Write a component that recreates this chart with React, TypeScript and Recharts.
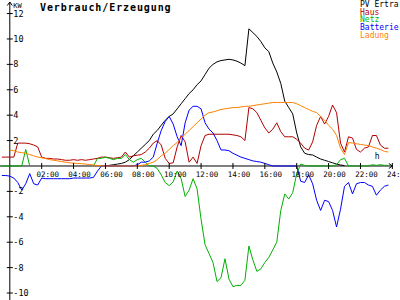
import { Legend, Line, LineChart, ReferenceDot, ReferenceLine, XAxis, YAxis } from "recharts";

// time of day in hours, 15 min steps (starts a bit before midnight)
const hours = [
  -0.5, -0.25,
  0, 0.25, 0.5, 0.75, 1, 1.25, 1.5, 1.75, 2, 2.25, 2.5, 2.75, 3, 3.25, 3.5, 3.75,
  4, 4.25, 4.5, 4.75, 5, 5.25, 5.5, 5.75, 6, 6.25, 6.5, 6.75, 7, 7.25, 7.5, 7.75,
  8, 8.25, 8.5, 8.75, 9, 9.25, 9.5, 9.75, 10, 10.25, 10.5, 10.75, 11, 11.25, 11.5, 11.75,
  12, 12.25, 12.5, 12.75, 13, 13.25, 13.5, 13.75, 14, 14.25, 14.5, 14.75, 15, 15.25, 15.5, 15.75,
  16, 16.25, 16.5, 16.75, 17, 17.25, 17.5, 17.75, 18, 18.25, 18.5, 18.75, 19, 19.25, 19.5, 19.75,
  20, 20.25, 20.5, 20.75, 21, 21.25, 21.5, 21.75, 22, 22.25, 22.5, 22.75, 23, 23.25, 23.5, 23.75,
];

// kW, one row per hour
const pvErtrag = [
  null, null,
  null, null, null, null,
  null, null, null, null,
  null, null, null, null,
  null, null, null, null,
  null, null, null, null,
  null, null, null, null,
  0, 0.05, 0.1, 0.15,
  0.2, 0.3, 0.5, 0.8,
  1.1, 1.4, 1.7, 2.0,
  2.5, 2.8, 3.2, 3.6,
  3.9, 4.1, 4.5, 4.9,
  5.3, 5.7, 6.0, 6.4,
  6.7, 7.2, 7.7, 8.0,
  8.2, 8.3, 8.35, 8.4,
  8.35, 8.25, 8.1, 7.9,
  10.8, 10.5, 10.2, 9.8,
  9.3, 9.0, 8.1, 7.4,
  6.5, 5.1, 4.6, 4.1,
  2.6, 1.5, 1.0, 0.9,
  0.87, 0.7, 0.55, 0.45,
  0.35, 0.25, 0.15, 0.08,
  0.03, null, null, null,
  null, null, null, null,
  null, null, null, null,
];

const haus = [
  0.7, 0.7,
  0.7, 0.7, 1.8, 1.8,
  1.8, 1.75, 1.65, 1.5,
  0.7, 0.6, 0.6, 0.55,
  0.55, 0.5, 0.45, 0.45,
  0.5, 0.45, 0.5, 0.45,
  0.5, 0.55, 0.6, 0.7,
  0.7, 0.65, 0.6, 0.65,
  0.7, 1.1, 0.7, 0.8,
  0.85, 0.9, 1.1, 1.4,
  1.8, 2.0, 1.65, 0.6,
  0.2, 0.25, 1.5, 2.4,
  1.9, 0.3, 0.7, 0.2,
  1.6, 2.4, 2.5, 2.5,
  2.5, 2.5, 2.5, 2.5,
  2.45, 2.4, 2.3, 2.0,
  4.6, 4.5, 4.2, 3.6,
  3.0, 2.6, 2.9, 3.4,
  2.7, 2.3, 2.3, 2.3,
  2.1, 1.8, 1.4, 1.26,
  1.9, 3.2, 3.9, 3.3,
  3.9, 4.8, 4.2, 1.8,
  1.1, 2.3, 2.2, 1.3,
  1.1, 1.4, 1.5, 2.4,
  2.4, 1.65, 1.4, 1.4,
];

const netz = [
  0, 0,
  0, 0, 0, 0,
  1.3, 0, null, null,
  null, null, null, null,
  null, null, null, null,
  null, null, null, null,
  null, 0, 0.6, 0.6,
  0.7, 0.6, 0.5, 0.6,
  0.6, 0.9, 0.5, 0.3,
  0.5, 0.6, 0.3, 0,
  0, -0.2, -0.7, -1.3,
  -1.55, -1.25, -0.4, -1.0,
  -2.4, -1.9, -1.0, -1.8,
  -4.2, -6.2, -6.9, -7.6,
  -9.1, -8.8, -7.3, -8.9,
  -9.5, -9.4, -9.4, -9.0,
  -6.3, -7.4, -8.3, -8.1,
  -7.6, -7.2, -6.6, -6.0,
  -3.5, -2.2, -2.6, -2.1,
  -0.6, 0.15, 0.05, 0,
  0, 0, 0, 0,
  0, 0, 0.1, 0.5,
  0.6, 0, 0, 0,
  0, 0, 0, 0.1,
  0.05, 0.1, 0.05, 0.05,
];

const batterie = [
  -0.75, -0.75,
  -0.8, -0.95, -1.3, -1.9,
  -1.4, -0.6, -1.4, -1.5,
  -0.95, -1.0, -1.0, -1.0,
  -1.0, -1.0, -1.0, -1.0,
  -0.95, -0.95, -0.95, -0.95,
  -0.95, -0.9, -0.4, 0,
  0, 0, 0, 0,
  0, 0, 0, 0,
  0.1, 0.3, 0.3, 0.4,
  0.7, 1.8, 2.8, 3.5,
  3.9, 3.3, 2.3, 1.6,
  3.4, 4.4, 4.7, 4.7,
  4.5, 3.4, 2.9, 2.6,
  2.0, 1.26, 1.26, 1.2,
  1.0, 0.85, 0.7, 0.6,
  0.5, 0.4, 0.35, 0.3,
  0.2, 0.1, 0, 0,
  0, 0, 0, 0,
  0, -1.2, -1.3, -0.7,
  -1.4, -2.7, -3.5, -2.7,
  -2.8, -3.5, -4.8, -3.4,
  -1.6, -1.3, -2.2, -1.4,
  -1.3, -1.3, -1.5, -1.6,
  -2.3, -1.9, -1.6, -1.5,
];

const ladung = [
  null, null,
  1.26, 1.2, 1.1, 1.05,
  1.0, 0.9, 0.8, 0.7,
  0.65, 0.58, 0.5, 0.45,
  0.4, 0.35, 0.3, 0.25,
  0.22, 0.2, 0.18, 0.15,
  0.12, 0.08, 0.04, 0,
  0, 0, 0, 0,
  0, 0, 0, 0,
  0, 0.05, 0.1, 0.2,
  0.3, 0.5, 0.8, 1.0,
  1.3, 1.6, 1.85, 2.2,
  2.5, 2.8, 3.1, 3.4,
  3.7, 4.0, 4.2, 4.25,
  4.35, 4.45, 4.5, 4.55,
  4.6, 4.6, 4.65, 4.7,
  4.7, 4.75, 4.8, 4.85,
  4.9, 4.95, 5.0, 5.0,
  5.0, 5.0, 5.0, 5.0,
  4.9, 4.75, 4.6, 4.45,
  4.3, 4.2, 3.9, 3.6,
  3.2, 2.9, 2.4, 1.4,
  0.9, 1.85, 1.8, 1.75,
  1.7, 1.65, 1.6, 1.5,
  1.4, 1.3, 1.15, 1.1,
];

const seriesNames = ["PV Ertra", "Haus", "Netz", "Batterie", "Ladung"];

const xTicks = [2, 4, 6, 8, 10, 12, 14, 16, 18, 20, 22, 24];
const xTickLabels = ["02:00", "04:00", "06:00", "08:00", "10:00", "12:00", "14:00", "16:00", "18:00", "20:00", "22:00", "24:00"];
const yTicks = [-10, -8, -6, -4, -2, 2, 4, 6, 8, 10, 12];

const data = hours.map((h, i) => ({
  h,
  pv: pvErtrag[i],
  haus: haus[i],
  netz: netz[i],
  batterie: batterie[i],
  ladung: ladung[i],
}));

const MONO = '"DejaVu Sans Mono", "Liberation Mono", monospace';

const X_DOMAIN = [-0.615, 24.48];
const Y_DOMAIN = [-10.55, 12.91];

function XTick({ cx, cy, label }: any) {
  return (
    <g>
      <line x1={cx} y1={cy - 3} x2={cx} y2={cy + 3} stroke="#000" />
      <text x={cx + 6} y={cy + 11.5} textAnchor="middle" fontSize={7.5} fontFamily={MONO} fill="#000">
        {label}
      </text>
    </g>
  );
}

function YTick({ cx, cy, label }: any) {
  return (
    <g>
      <line x1={cx - 3} y1={cy} x2={cx + 3} y2={cy} stroke="#000" />
      <text x={cx + 3.5} y={cy + 3} fontSize={8.5} fontFamily={MONO} fill="#000">
        {label}
      </text>
    </g>
  );
}

function TopArrow({ cx, cy }: any) {
  return (
    <g>
      <path d={`M${cx - 2.5},${cy + 3.5} L${cx},${cy} L${cx + 2.5},${cy + 3.5}`} fill="none" stroke="#000" />
      <text x={cx + 3.5} y={cy + 5.5} fontSize={7} fontFamily={MONO} fill="#000">KW</text>
    </g>
  );
}

function RightArrow({ cx, cy }: any) {
  return (
    <g>
      <path d={`M${cx - 3.5},${cy - 2.5} L${cx},${cy} L${cx - 3.5},${cy + 2.5}`} fill="none" stroke="#000" />
      <text x={cx - 17.5} y={cy - 7} fontSize={8} fontFamily={MONO} fill="#000">h</text>
    </g>
  );
}

const renderLegend = (props: any) => {
  const items = [...(props.payload || [])].sort(
    (a: any, b: any) => seriesNames.indexOf(a.value) - seriesNames.indexOf(b.value)
  );
  return (
    <div style={{ fontFamily: MONO, fontSize: 8, lineHeight: "7.7px", whiteSpace: "nowrap" }}>
      {items.map((p: any) => (
        <div key={p.value} style={{ color: p.color }}>{p.value}</div>
      ))}
    </div>
  );
};

export default function App() {
  return (
    <div style={{ position: "absolute", left: 0, top: 0, width: 400, height: 300, background: "#fff" }}>
      <LineChart width={400} height={300} data={data} margin={{ top: 2, right: 0, bottom: 0, left: 0 }}>
        <XAxis type="number" dataKey="h" domain={X_DOMAIN} allowDataOverflow hide />
        <YAxis type="number" domain={Y_DOMAIN} allowDataOverflow hide />

        <ReferenceLine x={0} stroke="#000" zIndex={0} />
        <ReferenceLine segment={[{ x: X_DOMAIN[0], y: 0 }, { x: 24, y: 0 }]} stroke="#000" zIndex={0} />

        {xTicks.map((t, i) => (
          <ReferenceDot key={`x${t}`} x={t} y={0} r={0} ifOverflow="visible"
            shape={(p: any) => <XTick cx={p.cx} cy={p.cy} label={xTickLabels[i]} />} />
        ))}
        {yTicks.map((t) => (
          <ReferenceDot key={`y${t}`} x={0} y={t} r={0} ifOverflow="visible"
            shape={(p: any) => <YTick cx={p.cx} cy={p.cy} label={String(t)} />} />
        ))}
        <ReferenceDot x={0} y={Y_DOMAIN[1]} r={0} ifOverflow="visible" shape={(p: any) => <TopArrow cx={p.cx} cy={p.cy} />} />
        <ReferenceDot x={24} y={0} r={0} ifOverflow="visible" shape={(p: any) => <RightArrow cx={p.cx} cy={p.cy} />} />

        <Line type="linear" dataKey="pv" name={seriesNames[0]} stroke="#000000" strokeWidth={1} dot={false} isAnimationActive={false} />
        <Line type="linear" dataKey="haus" name={seriesNames[1]} stroke="#b00000" strokeWidth={1} dot={false} isAnimationActive={false} />
        <Line type="linear" dataKey="netz" name={seriesNames[2]} stroke="#00b000" strokeWidth={1} dot={false} isAnimationActive={false} />
        <Line type="linear" dataKey="batterie" name={seriesNames[3]} stroke="#0000ff" strokeWidth={1} dot={false} isAnimationActive={false} />
        <Line type="linear" dataKey="ladung" name={seriesNames[4]} stroke="#ff8000" strokeWidth={1} dot={false} isAnimationActive={false} />

        <Legend layout="vertical" align="center" verticalAlign="middle" content={renderLegend}
          wrapperStyle={{ position: "absolute", top: 1, left: 360, width: 40, height: 40 }} />

        <text x={40} y={10.5} fontSize={10} fontWeight="bold" letterSpacing={0.9} fontFamily={MONO} fill="#000">
          Verbrauch/Erzeugung
        </text>
      </LineChart>
    </div>
  );
}
